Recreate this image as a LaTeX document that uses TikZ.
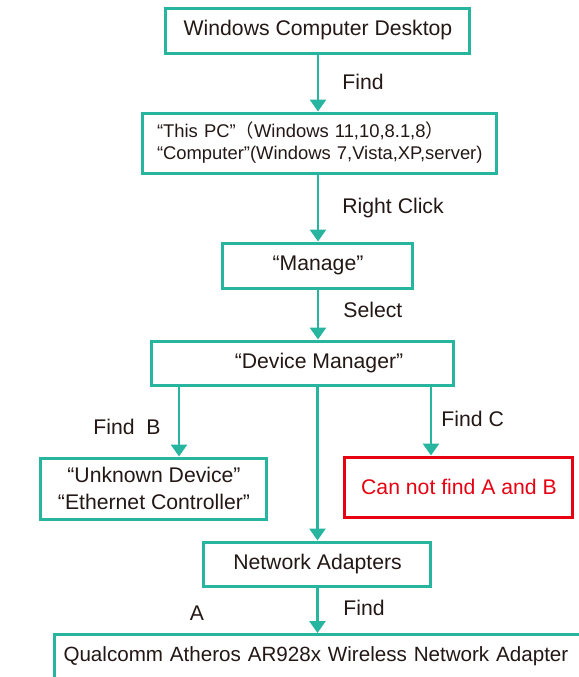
\documentclass[tikz,border=0pt]{standalone}
\usepackage{fontspec}
\setmainfont{Liberation Sans}
\newfontfamily\cjk{Noto Sans CJK SC}
\usepackage{xcolor}
\usetikzlibrary{arrows.meta}
\definecolor{flowteal}{RGB}{40,181,160}
\definecolor{flowred}{RGB}{230,0,18}
\definecolor{flowtext}{RGB}{35,24,21}

\begin{document}
\begin{tikzpicture}[
  x = 0.5pt, y = -0.5pt,
  every node/.style = {text = flowtext, font = \fontsize{10.6}{13.5}\selectfont},
  box/.style = {draw = flowteal, line width = 1.5pt, inner sep = 0pt, align = center},
  redbox/.style = {box, draw = flowred, text = flowred},
  lbl/.style = {anchor = base west, inner sep = 0pt},
  arr/.style = {draw = flowteal, line width = 1.4pt, -{Triangle[width = 8pt, length = 6pt]}}
  ]
  \clip (0,0) rectangle (579,677);
  \fill[white] (0,0) rectangle (579,677);
  \node[box, minimum width = 152pt, minimum height = 22.5pt] (desktop) at (318,30.5) {Windows Computer Desktop};
  \node[box, minimum height = 30pt, inner xsep = 7pt, text width = 163pt, align = left,
        font = \fontsize{9.2}{11}\selectfont] (thispc) at (320,143)
    {“This PC”{\cjk （}Windows 11,10,8.1,8{\cjk ）}\\“Computer”(Windows 7,Vista,XP,server)};
  \node[box, minimum width = 95pt, minimum height = 22.5pt] (manage) at (318,265.5) {“Manage”};
  \node[box, minimum width = 151pt, minimum height = 22pt] (devmgr) at (303,363) {\hspace*{16pt}“Device Manager”};
  \node[box, minimum width = 113pt, minimum height = 30.5pt] (unknown) at (154,488.5) {“Unknown Device”\\“Ethernet Controller”};
  \node[redbox, minimum width = 114pt, minimum height = 30pt] (nofind) at (459,487) {Can not find A and B};
  \node[box, minimum width = 113.5pt, minimum height = 22pt] (netadapt) at (317.5,564) {Network Adapters};
  \node[box, anchor = north west, inner xsep = 4.5pt, inner ysep = 3pt, text width = 285pt, align = left,
        text height = 10.25pt, text depth = 25pt, font = \fontsize{10.3}{13.5}\selectfont] (qualcomm) at (53,633)
    {Qualcomm Atheros AR928x Wireless Network Adapter};

  % step labels
  \node[lbl] (findone) at (342,89) {Find};
  \node[lbl] (rightclick) at (342,213) {Right Click};
  \node[lbl] (select) at (343,317) {Select};
  \node[lbl] (findb) at (93,434) {Find\ \ B};
  \node[lbl] (findc) at (441,426) {Find C};
  \node[inner sep = 0pt, anchor = base] (labela) at (197,620) {A};
  \node[lbl] (findtwo) at (343,615) {Find};

  \draw[arr] (desktop.south) -- (desktop.south |- thispc.north);
  \draw[arr] (thispc.south -| manage.north) -- (manage.north);
  \draw[arr] (manage.south) -- (manage.south |- devmgr.north);
  \draw[arr] (devmgr.south -| netadapt.north) -- (netadapt.north);
  \draw[arr] ([xshift = 12.5pt]unknown.north |- devmgr.south) -- ([xshift = 12.5pt]unknown.north);
  \draw[arr] ([xshift = -14pt]nofind.north |- devmgr.south) -- ([xshift = -14pt]nofind.north);
  \draw[arr] (netadapt.south) -- (netadapt.south |- qualcomm.north);
\end{tikzpicture}
\end{document}
